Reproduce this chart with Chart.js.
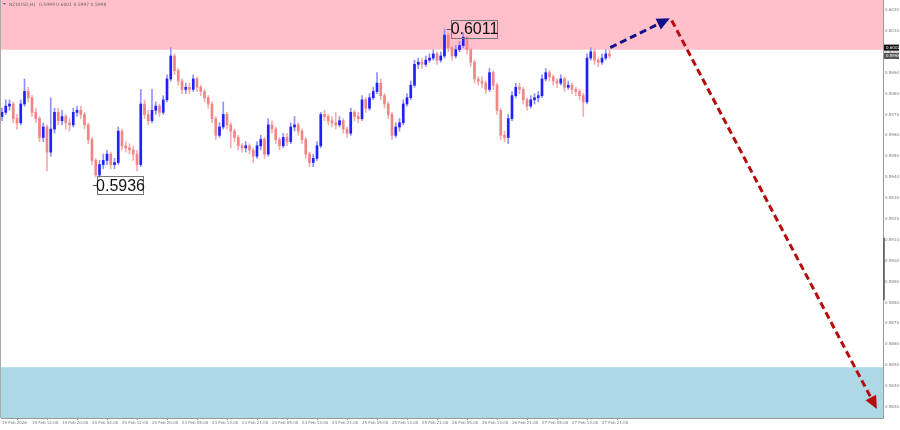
<!DOCTYPE html>
<html>
<head>
<meta charset="utf-8">
<script src="https://cdn.jsdelivr.net/npm/chart.js@4.4.1/dist/chart.umd.min.js"></script>
<style>
  html, body { margin: 0; padding: 0; background: #fff; }
  #wrap { width: 900px; height: 430px; }
</style>
</head>
<body>
<div id="wrap"><canvas id="chart" width="900" height="430"></canvas></div>
<script>
// NZDUSD H1 candles, 19 Feb 04:00 .. 27 Feb 23:00
const opens = [
  0.5969,0.5971,0.5974,0.5975,0.5968,0.5966,0.5975,0.5981,0.5978,0.5971,
  0.5968,0.5959,0.5964,0.5952,0.5963,0.5971,0.5967,0.5969,0.5966,0.5965,
  0.5971,0.5972,0.5970,0.5965,0.5958,0.5948,0.5941,0.5946,0.5948,0.5951,
  0.5946,0.5947,0.5962,0.5955,0.5954,0.5953,0.5951,0.5946,0.5975,0.5970,
  0.5967,0.5972,0.5974,0.5971,0.5977,0.5987,0.5998,0.5991,0.5986,0.5982,
  0.5983,0.5982,0.5987,0.5983,0.5981,0.5978,0.5975,0.5968,0.5960,0.5964,
  0.5970,0.5965,0.5962,0.5959,0.5955,0.5954,0.5955,0.5953,0.5950,0.5955,
  0.5958,0.5951,0.5965,0.5963,0.5958,0.5955,0.5959,0.5957,0.5964,0.5965,
  0.5962,0.5958,0.5951,0.5947,0.5949,0.5955,0.5970,0.5969,0.5967,0.5966,
  0.5965,0.5967,0.5963,0.5961,0.5971,0.5969,0.5968,0.5977,0.5973,0.5978,
  0.5981,0.5985,0.5979,0.5975,0.5970,0.5960,0.5964,0.5966,0.5975,0.5978,
  0.5984,0.5994,0.5995,0.5994,0.5996,0.5997,0.5999,0.5996,0.5998,0.6008,
  0.6002,0.5998,0.6001,0.6003,0.6007,0.6001,0.5995,0.5987,0.5986,0.5985,
  0.5982,0.5990,0.5984,0.5972,0.5960,0.5959,0.5968,0.5979,0.5983,0.5982,
  0.5977,0.5974,0.5977,0.5978,0.5979,0.5987,0.5990,0.5988,0.5986,0.5985,
  0.5987,0.5983,0.5984,0.5982,0.5981,0.5979,0.5976,0.5997,0.6000,0.5996,
  0.5995,0.5997,0.5999
];
const highs = [
  0.5973,0.5977,0.5977,0.5976,0.5970,0.5977,0.5987,0.5983,0.5979,0.5973,
  0.5969,0.5966,0.5965,0.5978,0.5973,0.5973,0.5972,0.5970,0.5968,0.5973,
  0.5974,0.5974,0.5971,0.5966,0.5959,0.5949,0.5948,0.5951,0.5953,0.5952,
  0.5949,0.5964,0.5963,0.5957,0.5956,0.5955,0.5953,0.5982,0.5977,0.5972,
  0.5982,0.5976,0.5975,0.5979,0.5989,0.6002,0.5999,0.5992,0.5987,0.5985,
  0.5985,0.5989,0.5988,0.5984,0.5982,0.5979,0.5976,0.5969,0.5966,0.5976,
  0.5971,0.5966,0.5963,0.5960,0.5956,0.5957,0.5956,0.5954,0.5957,0.5960,
  0.5959,0.5968,0.5967,0.5964,0.5959,0.5961,0.5961,0.5966,0.5969,0.5966,
  0.5963,0.5959,0.5952,0.5951,0.5957,0.5971,0.5972,0.5970,0.5969,0.5971,
  0.5969,0.5968,0.5964,0.5973,0.5972,0.5971,0.5979,0.5978,0.5980,0.5983,
  0.5990,0.5987,0.5980,0.5976,0.5971,0.5966,0.5968,0.5977,0.5980,0.5986,
  0.5996,0.5997,0.5997,0.5998,0.5999,0.6001,0.6000,0.6000,0.6011,0.6009,
  0.6003,0.6003,0.6005,0.6009,0.6008,0.6002,0.5996,0.5988,0.5988,0.5986,
  0.5992,0.5991,0.5985,0.5973,0.5962,0.5970,0.5981,0.5985,0.5985,0.5983,
  0.5978,0.5979,0.5980,0.5981,0.5989,0.5992,0.5991,0.5989,0.5987,0.5989,
  0.5988,0.5986,0.5985,0.5983,0.5982,0.5980,0.5999,0.6002,0.6001,0.5997,
  0.5999,0.6001,0.6001
];
const lows = [
  0.5967,0.5970,0.5972,0.5966,0.5963,0.5965,0.5974,0.5976,0.5969,0.5966,
  0.5957,0.5957,0.5943,0.5950,0.5961,0.5965,0.5965,0.5963,0.5962,0.5964,
  0.5969,0.5968,0.5963,0.5956,0.5946,0.5940,0.5940,0.5944,0.5946,0.5944,
  0.5944,0.5946,0.5953,0.5952,0.5951,0.5948,0.5943,0.5945,0.5968,0.5965,
  0.5966,0.5970,0.5969,0.5970,0.5976,0.5986,0.5989,0.5984,0.5980,0.5980,
  0.5980,0.5981,0.5981,0.5979,0.5976,0.5973,0.5966,0.5958,0.5959,0.5963,
  0.5963,0.5954,0.5957,0.5953,0.5952,0.5952,0.5951,0.5947,0.5949,0.5953,
  0.5949,0.5950,0.5961,0.5956,0.5953,0.5954,0.5955,0.5956,0.5962,0.5960,
  0.5956,0.5949,0.5945,0.5945,0.5948,0.5954,0.5967,0.5965,0.5964,0.5963,
  0.5964,0.5961,0.5959,0.5960,0.5967,0.5966,0.5967,0.5971,0.5972,0.5977,
  0.5980,0.5977,0.5973,0.5968,0.5958,0.5959,0.5962,0.5965,0.5974,0.5977,
  0.5983,0.5992,0.5992,0.5993,0.5995,0.5996,0.5994,0.5995,0.5997,0.6000,
  0.5996,0.5997,0.6000,0.6002,0.5999,0.5993,0.5985,0.5984,0.5983,0.5980,
  0.5981,0.5982,0.5970,0.5958,0.5957,0.5956,0.5967,0.5978,0.5980,0.5975,
  0.5972,0.5973,0.5975,0.5976,0.5978,0.5986,0.5986,0.5984,0.5983,0.5984,
  0.5981,0.5982,0.5980,0.5979,0.5977,0.5969,0.5975,0.5996,0.5994,0.5993,
  0.5994,0.5996,0.5997
];
const closes = [
  0.5971,0.5974,0.5975,0.5968,0.5966,0.5975,0.5981,0.5978,0.5971,0.5968,
  0.5959,0.5964,0.5952,0.5963,0.5971,0.5967,0.5969,0.5966,0.5965,0.5971,
  0.5972,0.5970,0.5965,0.5958,0.5948,0.5941,0.5946,0.5948,0.5951,0.5946,
  0.5947,0.5962,0.5955,0.5954,0.5953,0.5951,0.5946,0.5975,0.5970,0.5967,
  0.5972,0.5974,0.5971,0.5977,0.5987,0.5998,0.5991,0.5986,0.5982,0.5983,
  0.5982,0.5987,0.5983,0.5981,0.5978,0.5975,0.5968,0.5960,0.5964,0.5970,
  0.5965,0.5962,0.5959,0.5955,0.5954,0.5955,0.5953,0.5950,0.5955,0.5958,
  0.5951,0.5965,0.5963,0.5958,0.5955,0.5959,0.5957,0.5964,0.5965,0.5962,
  0.5958,0.5951,0.5947,0.5949,0.5955,0.5970,0.5969,0.5967,0.5966,0.5965,
  0.5967,0.5963,0.5961,0.5971,0.5969,0.5968,0.5977,0.5973,0.5978,0.5981,
  0.5985,0.5979,0.5975,0.5970,0.5960,0.5964,0.5966,0.5975,0.5978,0.5984,
  0.5994,0.5995,0.5994,0.5996,0.5997,0.5999,0.5996,0.5998,0.6008,0.6002,
  0.5998,0.6001,0.6003,0.6007,0.6001,0.5995,0.5987,0.5986,0.5985,0.5982,
  0.5990,0.5984,0.5972,0.5960,0.5959,0.5968,0.5979,0.5983,0.5982,0.5977,
  0.5974,0.5977,0.5978,0.5979,0.5987,0.5990,0.5988,0.5986,0.5985,0.5987,
  0.5983,0.5984,0.5982,0.5981,0.5979,0.5976,0.5997,0.6000,0.5996,0.5995,
  0.5997,0.5999,0.5998
];

// one label every 8 bars
const timeTicks = [
  '19 Feb 2026', '19 Feb 12:00', '19 Feb 20:00', '20 Feb 04:00', '20 Feb 12:00',
  '20 Feb 20:00', '23 Feb 05:00', '23 Feb 13:00', '23 Feb 21:00', '24 Feb 05:00',
  '24 Feb 13:00', '24 Feb 21:00', '25 Feb 05:00', '25 Feb 13:00', '25 Feb 21:00',
  '26 Feb 05:00', '26 Feb 13:00', '26 Feb 21:00', '27 Feb 05:00', '27 Feb 13:00',
  '27 Feb 21:00'
];
const priceTicks = [
  0.5830, 0.5840, 0.5850, 0.5860, 0.5870, 0.5880, 0.5890, 0.5900, 0.5910, 0.5920,
  0.5930, 0.5940, 0.5950, 0.5960, 0.5970, 0.5980, 0.5990, 0.6000, 0.6010, 0.6020
];

const sellZone = [0.6001, 0.6026];
const buyZone  = [0.5824, 0.5849];

// forecast arrows: [bar index, price]
const arrowUp   = [[162.2, 0.6002], [178.1, 0.6016]];
const arrowDown = [[178.6, 0.6015], [233.3, 0.5829]];

// swing labels: [bar index, price]
const swings = [[118.6, 0.6011], [24.2, 0.5936]];

const priceMarks = [0.6002, 0.5998];
const scrollMark = [0.5881, 0.5911];
const header = 'NZDUSD,H1  0.5999 0.6001 0.5997 0.5998';

Chart.defaults.font.family = 'DejaVu Sans';

const isUp = closes.map((c, i) => c >= opens[i]);

function drawArrow(ctx, x0, y0, x1, y1, col) {
  const a = Math.atan2(y1 - y0, x1 - x0);
  const len = 13, half = 6;
  const bx = x1 - len * Math.cos(a), by = y1 - len * Math.sin(a);
  ctx.strokeStyle = col;
  ctx.lineWidth = 3;
  ctx.setLineDash([7, 4]);
  ctx.beginPath();
  ctx.moveTo(x0, y0);
  ctx.lineTo(bx, by);
  ctx.stroke();
  ctx.setLineDash([]);
  ctx.fillStyle = col;
  ctx.beginPath();
  ctx.moveTo(x1, y1);
  ctx.lineTo(bx + half * Math.sin(a), by - half * Math.cos(a));
  ctx.lineTo(bx - half * Math.sin(a), by + half * Math.cos(a));
  ctx.closePath();
  ctx.fill();
}

const overlay = {
  id: 'overlay',
  beforeDatasetsDraw(chart) {
    const { ctx, chartArea: ar, scales: { y } } = chart;
    ctx.save();
    const band = (z, col) => {
      const top = Math.max(ar.top, y.getPixelForValue(z[1]));
      const bot = Math.min(ar.bottom, y.getPixelForValue(z[0]));
      ctx.fillStyle = col;
      ctx.fillRect(0, top, ar.right, bot - top);
    };
    band(sellZone, '#ffc0cb');
    band(buyZone, '#add8e6');
    ctx.strokeStyle = '#aaa';
    ctx.lineWidth = 1;
    ctx.beginPath();
    ctx.moveTo(0.5, ar.top);
    ctx.lineTo(0.5, ar.bottom);
    ctx.stroke();
    ctx.restore();
  },
  afterDatasetsDraw(chart) {
    const { ctx, scales: { x, y } } = chart;
    ctx.save();
    const px = p => [x.getPixelForValue(p[0]), y.getPixelForValue(p[1])];
    const [a0, a1] = [px(arrowUp[0]), px(arrowUp[1])];
    drawArrow(ctx, a0[0], a0[1], a1[0], a1[1], '#10108a');
    const [b0, b1] = [px(arrowDown[0]), px(arrowDown[1])];
    drawArrow(ctx, b0[0], b0[1], b1[0], b1[1], '#b80c0c');

    ctx.font = '16px "Liberation Sans Narrow", "Liberation Sans", sans-serif';
    ctx.textBaseline = 'middle';
    ctx.textAlign = 'center';
    swings.forEach(s => {
      const [sx, sy] = px(s);
      ctx.strokeStyle = '#555';
      ctx.lineWidth = 1;
      ctx.beginPath();
      ctx.moveTo(sx, Math.round(sy) + 0.5);
      ctx.lineTo(sx + 4, Math.round(sy) + 0.5);
      ctx.stroke();
      const bx = Math.round(sx + 4) + 0.5, bw = 46, bh = 18;
      const by = Math.round(sy - bh / 2) + 0.5;
      ctx.strokeStyle = '#777';
      ctx.strokeRect(bx, by, bw, bh);
      ctx.fillStyle = '#111';
      ctx.fillText(s[1].toFixed(4), bx + bw / 2, sy + 1);
    });
    ctx.restore();
  },
  afterDraw(chart) {
    const { ctx, chartArea: ar, scales: { y } } = chart;
    ctx.save();
    // darker segment on the price axis
    ctx.strokeStyle = '#555';
    ctx.lineWidth = 1.5;
    ctx.beginPath();
    ctx.moveTo(ar.right + 1, y.getPixelForValue(scrollMark[1]));
    ctx.lineTo(ar.right + 1, y.getPixelForValue(scrollMark[0]));
    ctx.stroke();

    ctx.font = '4px "DejaVu Sans"';
    ctx.textBaseline = 'middle';
    ctx.textAlign = 'left';
    priceMarks.forEach((v, k) => {
      const py = y.getPixelForValue(v);
      ctx.fillStyle = k === 0 ? '#111' : '#555';
      ctx.fillRect(ar.right + 1, py - 3, 15, 6);
      ctx.fillStyle = '#fff';
      ctx.fillText(v.toFixed(4), ar.right + 3, py);
    });
    // header
    ctx.fillStyle = '#666';
    ctx.beginPath();
    ctx.moveTo(3, 3);
    ctx.lineTo(6, 3);
    ctx.lineTo(4.5, 5);
    ctx.closePath();
    ctx.fill();
    ctx.font = '4.5px "DejaVu Sans"';
    ctx.fillText(header, 9, 4.5);
    ctx.restore();
  }
};

new Chart(document.getElementById('chart'), {
  type: 'bar',
  data: {
    datasets: [
      {
        label: 'body',
        data: opens.map((o, i) => ({ x: i, y: [o, closes[i]] })),
        backgroundColor: isUp.map(u => u ? '#1f1fff' : '#ef8585'),
        barThickness: 2,
        minBarLength: 1,
        grouped: false,
        order: 0,
      },
      {
        label: 'wick',
        data: lows.map((l, i) => ({ x: i, y: [l, highs[i]] })),
        backgroundColor: isUp.map(u => u ? '#9090ff' : '#f6acac'),
        barThickness: 1,
        grouped: false,
        order: 1,
      },
    ],
  },
  options: {
    responsive: false,
    animation: false,
    layout: { padding: { left: 1, top: 0, right: 0, bottom: 0 } },
    plugins: { legend: { display: false }, tooltip: { enabled: false } },
    scales: {
      x: {
        type: 'linear',
        min: -0.267,
        max: 234.933,
        offset: false,
        afterBuildTicks: s => { s.ticks = timeTicks.map((t, k) => ({ value: k * 8 })); },
        afterFit: s => {
          s.height = 12;
          s.paddingLeft = 0; s.paddingRight = 0;
        },
        ticks: {
          autoSkip: false, maxRotation: 0, align: 'start', padding: 1,
          color: '#777', font: { size: 4 },
          callback: (v, k) => timeTicks[k],
        },
        grid: { drawOnChartArea: false, tickLength: 2, color: '#999' },
        border: { color: '#999' },
      },
      y: {
        position: 'right',
        min: 0.582469,
        max: 0.602479,
        afterBuildTicks: s => { s.ticks = priceTicks.map(v => ({ value: v })); },
        afterFit: s => {
          s.width = 17;
          s.paddingTop = 0; s.paddingBottom = 0;
        },
        ticks: {
          padding: 1, color: '#777', font: { size: 4 },
          callback: v => v.toFixed(4),
        },
        grid: { drawOnChartArea: false, tickLength: 1, color: '#999' },
        border: { color: '#999' },
      },
    },
  },
  plugins: [overlay],
});
</script>
</body>
</html>
